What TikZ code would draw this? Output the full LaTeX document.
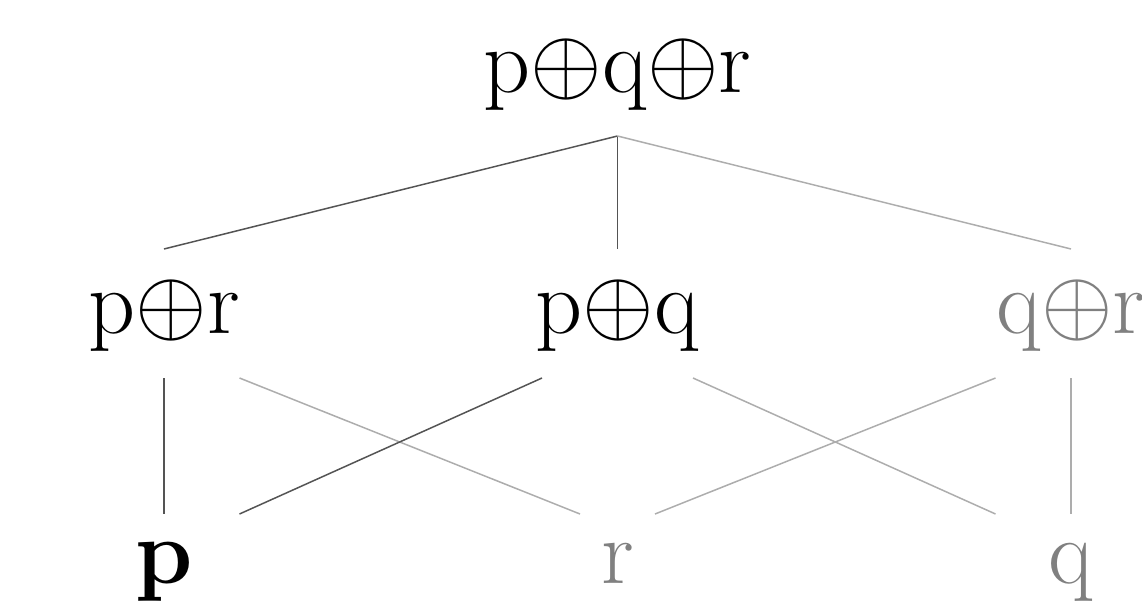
\documentclass[tikz,border=0pt]{standalone}
\usepackage{fix-cm}
\begin{document}
\begin{tikzpicture}[x=0.5pt,y=-0.5pt,
  lbl/.style={inner sep=0pt, outer sep=0pt, font=\fontsize{46}{55}\selectfont},
  mid/.style={lbl, minimum width=75.5pt, text height=42pt, text depth=22.5pt},
  bot/.style={lbl, minimum width=75.5pt, text height=34.5pt, text depth=20pt},
  dark/.style={draw=black!67, line width=0.75pt},
  light/.style={draw=black!32, line width=0.75pt},
  faded/.style={text=black!50}]
\useasboundingbox (0,0) rectangle (1142,606);
\node[lbl, text height=30pt, text depth=22pt, anchor=south] (top) at (617.5,136) {\makebox[0pt]{p$\oplus$q$\oplus$r}};
\node[mid, anchor=south] (pr) at (164,378) {\makebox[0pt]{p$\oplus$r}};
\node[mid, anchor=south] (pq) at (617.5,378) {\makebox[0pt]{p$\oplus$q}};
\node[mid, anchor=south, faded] (qr) at (1071,378) {\makebox[0pt]{q$\oplus$r}};
\node[bot, anchor=north] (p) at (164,514) {\makebox[0pt]{\textbf{p}}};
\node[bot, anchor=north, minimum width=37.5pt, faded] (r) at (617.5,514) {\makebox[0pt]{r}};
\node[bot, anchor=north, faded] (q) at (1071,514) {\makebox[0pt]{q}};
\draw[dark] (top.south) -- (pr.north);
\draw[dark] (top.south) -- (pq.north);
\draw[light] (top.south) -- (qr.north);
\draw[dark] (pr.south) -- (p.north);
\draw[light] (pr.south east) -- (r.north west);
\draw[dark] (pq.south west) -- (p.north east);
\draw[light] (pq.south east) -- (q.north west);
\draw[light] (qr.south west) -- (r.north east);
\draw[light] (qr.south) -- (q.north);
\end{tikzpicture}
\end{document}
